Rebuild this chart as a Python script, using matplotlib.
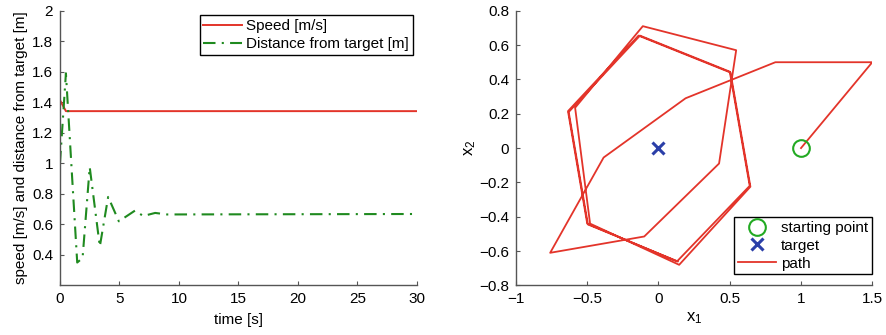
import numpy as np
import matplotlib.pyplot as plt

plt.rcParams['font.family'] = ['Liberation Sans', 'DejaVu Sans']
plt.rcParams['mathtext.fontset'] = 'custom'
plt.rcParams['mathtext.rm'] = 'Liberation Sans'
plt.rcParams['mathtext.it'] = 'Liberation Sans'

# speed and distance vs time
t_speed = [0, 0.5, 30]
speed = [1.414, 1.342, 1.342]

t_dist = [0, 0.5, 1.45, 1.9, 2.5, 3.35, 4.05, 4.95, 6.3, 7.0, 8.0, 9.0, 30]
dist = [1.0, 1.59, 0.35, 0.38, 0.975, 0.455, 0.78, 0.62, 0.69, 0.655, 0.675, 0.665, 0.668]

# path in the plane
path_x1 = [1.0, 1.5, 0.82, 0.19, -0.385, -0.76, -0.10, 0.425, 0.545, -0.11, -0.585, -0.48,
           0.145, 0.645, 0.505, -0.14, -0.635, -0.50, 0.13, 0.64, 0.50, -0.13, -0.63, -0.495, 0.135]
path_x2 = [0.0, 0.5, 0.5, 0.29, -0.055, -0.61, -0.515, -0.09, 0.57, 0.71, 0.235, -0.44,
           -0.68, -0.225, 0.44, 0.655, 0.215, -0.44, -0.66, -0.22, 0.445, 0.655, 0.21, -0.445, -0.66]
start = (1.0, 0.0)
target = (0.0, 0.0)

red = '#e3342a'
green = '#1f8a1f'
axcol = '#555555'
fs = 11

fig = plt.figure(figsize=(8.87, 3.35), dpi=100)
ax1 = fig.add_axes([0.0676, 0.148, 0.4025, 0.82])
ax2 = fig.add_axes([0.5817, 0.148, 0.4017, 0.82])

# --- left: speed / distance ---
ax1.plot(t_speed, speed, color=red, lw=1.4, label='Speed [m/s]')
ax1.plot(t_dist, dist, color=green, lw=1.5, dashes=(6, 3, 1, 3), label='Distance from target [m]')
ax1.set_xlim(0, 30)
ax1.set_ylim(0.2, 2)
ax1.set_xticks(np.arange(0, 31, 5))
ax1.set_yticks([0.4, 0.6, 0.8, 1, 1.2, 1.4, 1.6, 1.8, 2])
ax1.set_yticklabels(['0.4', '0.6', '0.8', '1', '1.2', '1.4', '1.6', '1.8', '2'])
ax1.set_xlabel('time [s]', fontsize=fs, labelpad=5)
ax1.set_ylabel('speed [m/s] and distance from target [m]', fontsize=fs, labelpad=3)
leg1 = ax1.legend(loc='upper right', bbox_to_anchor=(0.988, 0.983), fontsize=fs, fancybox=False,
                  edgecolor='black', framealpha=1, borderpad=0.25, handlelength=2.5,
                  handletextpad=0.3, labelspacing=0.25, borderaxespad=0)
leg1.get_frame().set_linewidth(1.0)

# --- right: path ---
ax2.plot(path_x1, path_x2, color=red, lw=1.3, label='path', zorder=2)
ax2.plot(*start, 'o', ms=12, mfc='none', mec='#22aa22', mew=1.5, label='starting point', zorder=3)
ax2.plot(*target, 'x', ms=8, color='#2b3fa8', mew=2.2, label='target', zorder=3)
ax2.set_xlim(-1, 1.5)
ax2.set_ylim(-0.8, 0.8)
ax2.set_xticks([-1, -0.5, 0, 0.5, 1, 1.5])
ax2.set_xticklabels(['\u22121', '\u22120.5', '0', '0.5', '1', '1.5'])
ax2.set_yticks(np.round(np.arange(-0.8, 0.81, 0.2), 1))
ax2.set_yticklabels(['\u22120.8', '\u22120.6', '\u22120.4', '\u22120.2', '0', '0.2', '0.4', '0.6', '0.8'])
ax2.set_xlabel('x$_1$', fontsize=12, labelpad=3)
ax2.set_ylabel('x$_2$', fontsize=12, labelpad=1)
h, l = ax2.get_legend_handles_labels()
order = [1, 2, 0]
leg2 = ax2.legend([h[i] for i in order], [l[i] for i in order], loc='lower right',
                  bbox_to_anchor=(0.998, 0.04), fontsize=fs, fancybox=False, edgecolor='black',
                  framealpha=1, borderpad=0.25, handlelength=2.5, handletextpad=0.3,
                  labelspacing=0.25, borderaxespad=0)
leg2.get_frame().set_linewidth(1.0)

for ax in (ax1, ax2):
    ax.spines['top'].set_visible(False)
    ax.spines['right'].set_visible(False)
    for s in ('left', 'bottom'):
        ax.spines[s].set_color(axcol)
        ax.spines[s].set_linewidth(1.0)
    ax.tick_params(direction='in', length=3, width=0.8, color=axcol, labelsize=fs, pad=5)

fig.savefig('out.png', dpi=100)
